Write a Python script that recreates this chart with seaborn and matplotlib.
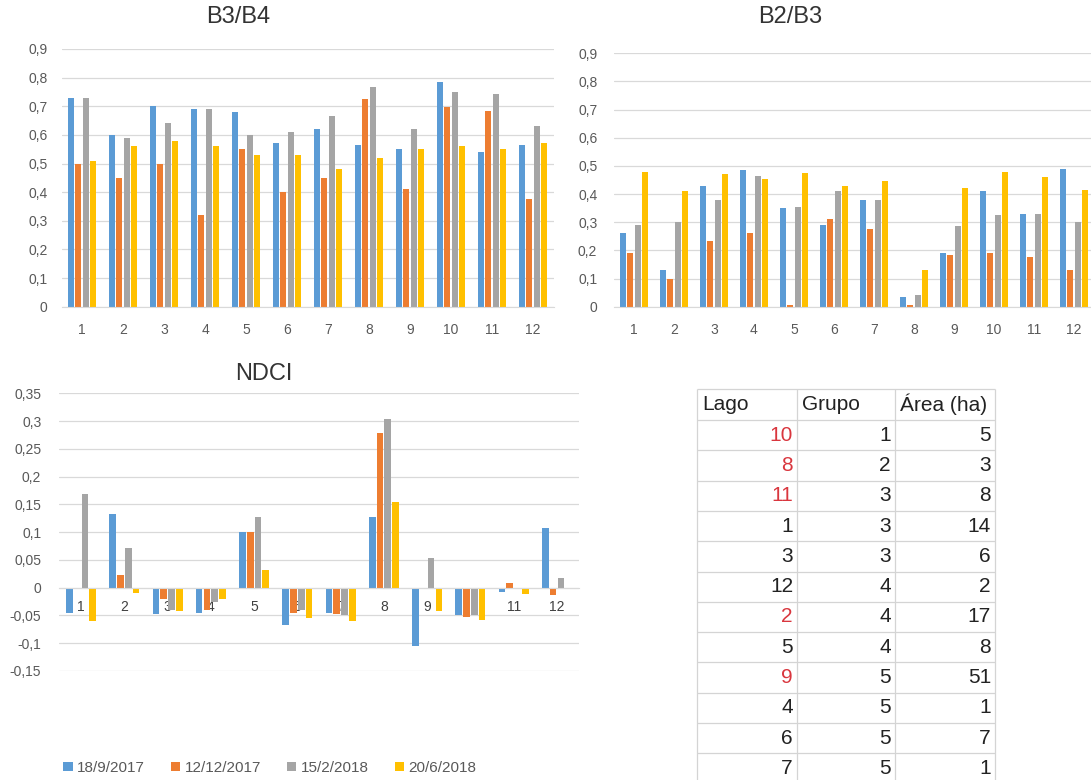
import numpy as np
import pandas as pd
import seaborn as sns
import matplotlib.pyplot as plt
from matplotlib.patches import Patch
from matplotlib.ticker import FuncFormatter, MultipleLocator

# ---- data ----
lagos = ['1', '2', '3', '4', '5', '6', '7', '8', '9', '10', '11', '12']
fechas = ['18/9/2017', '12/12/2017', '15/2/2018', '20/6/2018']
colores = ['#5B9BD5', '#ED7D31', '#A5A5A5', '#FFC000']

b34_sep17 = [0.73, 0.60, 0.70, 0.69, 0.68, 0.57, 0.62, 0.565, 0.55, 0.786, 0.54, 0.565]
b34_dic17 = [0.50, 0.45, 0.50, 0.32, 0.55, 0.40, 0.45, 0.724, 0.41, 0.696, 0.685, 0.375]
b34_feb18 = [0.73, 0.59, 0.64, 0.69, 0.60, 0.61, 0.666, 0.766, 0.62, 0.75, 0.743, 0.632]
b34_jun18 = [0.51, 0.56, 0.58, 0.56, 0.53, 0.53, 0.48, 0.52, 0.55, 0.56, 0.55, 0.57]

b23_sep17 = [0.26, 0.13, 0.43, 0.485, 0.35, 0.29, 0.38, 0.036, 0.19, 0.41, 0.33, 0.49]
b23_dic17 = [0.19, 0.10, 0.235, 0.26, 0.005, 0.31, 0.275, 0.005, 0.185, 0.19, 0.175, 0.13]
b23_feb18 = [0.29, 0.30, 0.38, 0.465, 0.355, 0.41, 0.38, 0.04, 0.285, 0.325, 0.33, 0.30]
b23_jun18 = [0.48, 0.41, 0.47, 0.455, 0.475, 0.43, 0.445, 0.13, 0.42, 0.48, 0.46, 0.415]

ndci_sep17 = [-0.045, 0.133, -0.048, -0.045, 0.10, -0.068, -0.045, 0.128, -0.105, -0.05, -0.008, 0.107]
ndci_dic17 = [0.0, 0.022, -0.02, -0.04, 0.10, -0.045, -0.048, 0.279, 0.0, -0.052, 0.008, -0.013]
ndci_feb18 = [0.168, 0.072, -0.04, -0.025, 0.127, -0.04, -0.05, 0.304, 0.053, -0.05, 0.0, 0.018]
ndci_jun18 = [-0.06, -0.01, -0.042, -0.02, 0.032, -0.055, -0.06, 0.155, -0.042, -0.058, -0.012, 0.0]

tabla_lago = [10, 8, 11, 1, 3, 12, 2, 5, 9, 4, 6, 7]
tabla_grupo = [1, 2, 3, 3, 3, 4, 4, 4, 5, 5, 5, 5]
tabla_area = [5, 3, 8, 14, 6, 2, 17, 8, 51, 1, 7, 1]
lagos_rojos = [10, 8, 11, 2, 9]

W, H = 1091, 780
GRIS_TXT = '#595959'
GRID = '#D9D9D9'


def to_long(series):
    rows = []
    for fecha, vals in zip(fechas, series):
        for lago, v in zip(lagos, vals):
            rows.append({'lago': lago, 'fecha': fecha, 'valor': v})
    return pd.DataFrame(rows)


def coma(v, pos=None):
    s = f"{v:.2f}".rstrip('0').rstrip('.')
    if s in ('-0', ''):
        s = '0'
    return s.replace('.', ',')


def px_axes(fig, left, right, top, bottom):
    return fig.add_axes([left / W, 1 - bottom / H, (right - left) / W, (bottom - top) / H])


def bar_panel(ax, series, ylim, step, ypad):
    d = to_long(series)
    sns.barplot(data=d, x='lago', y='valor', hue='fecha', hue_order=fechas,
                palette=colores, saturation=1, width=0.72, gap=0.15,
                errorbar=None, legend=False, linewidth=0, ax=ax)
    ax.set_xlim(-0.5, 11.5)
    ax.set_ylim(*ylim)
    ax.yaxis.set_major_locator(MultipleLocator(step))
    ax.yaxis.set_major_formatter(FuncFormatter(coma))
    ax.yaxis.grid(True, color=GRID, lw=0.9)
    ax.set_axisbelow(True)
    for s in ['top', 'right', 'left']:
        ax.spines[s].set_visible(False)
    ax.spines['bottom'].set_color(GRID)
    ax.set_xlabel('')
    ax.set_ylabel('')
    ax.tick_params(axis='both', length=0, labelsize=10, labelcolor=GRIS_TXT)
    ax.tick_params(axis='y', pad=ypad)
    ax.patch.set_alpha(0)


sns.set_style("white")
plt.rcParams['font.family'] = ['Liberation Sans', 'DejaVu Sans']

fig = plt.figure(figsize=(W / 100, H / 100), dpi=100)

# B3/B4
ax1 = px_axes(fig, 61.5, 553.5, 49, 306.7)
bar_panel(ax1, [b34_sep17, b34_dic17, b34_feb18, b34_jun18], (0, 0.9), 0.1, 10)
ax1.tick_params(axis='x', pad=12)

# B2/B3
ax2 = px_axes(fig, 614, 1094, 53.3, 306.7)
bar_panel(ax2, [b23_sep17, b23_dic17, b23_feb18, b23_jun18], (0, 0.9), 0.1, 12)
ax2.tick_params(axis='x', pad=12)

# NDCI
ax3 = px_axes(fig, 59.4, 578.6, 393.3, 671)
bar_panel(ax3, [ndci_sep17, ndci_dic17, ndci_feb18, ndci_jun18], (-0.15, 0.35), 0.05, 13)
ax3.spines['bottom'].set_position(('data', 0))
ax3.tick_params(axis='x', pad=9, labelcolor='#404040')

# overlay for titles and table (pixel coordinates)
ov = fig.add_axes([0, 0, 1, 1])
ov.set_xlim(0, W)
ov.set_ylim(H, 0)
ov.axis('off')
ov.patch.set_alpha(0)

ov.text(238, 17, 'B3/B4', fontsize=17, color='#333333', ha='center', va='center')
ov.text(790, 17, 'B2/B3', fontsize=17, color='#333333', ha='center', va='center')
ov.text(264, 374, 'NDCI', fontsize=17, color='#333333', ha='center', va='center')

# table
col_lines = [697, 797, 895, 995]
row_h = 30.3
first_line = 420
tab_top = 389
ov.hlines([tab_top] + [first_line + row_h * k for k in range(13)], col_lines[0], col_lines[-1],
          color='#D4D4D4', lw=0.9)
ov.vlines(col_lines, tab_top, H, color='#D4D4D4', lw=0.9)

head_y = (tab_top + first_line) / 2
for x0, txt in zip(col_lines[:3], ['Lago', 'Grupo', 'Área (ha)']):
    ov.text(x0 + 5, head_y, txt, fontsize=15, color='#222222', ha='left', va='center')

for i, (lg, gr, ar) in enumerate(zip(tabla_lago, tabla_grupo, tabla_area)):
    y = first_line + row_h * (i + 0.5)
    c_lago = '#D9363E' if lg in lagos_rojos else '#222222'
    ov.text(col_lines[1] - 4, y, str(lg), fontsize=15, color=c_lago, ha='right', va='center')
    ov.text(col_lines[2] - 4, y, str(gr), fontsize=15, color='#222222', ha='right', va='center')
    ov.text(col_lines[3] - 4, y, str(ar), fontsize=15, color='#222222', ha='right', va='center')

# legend
handles = [Patch(facecolor=c, edgecolor='none') for c in colores]
leg = fig.legend(handles, fechas, loc='center', bbox_to_anchor=(270 / W, 1 - 768 / H),
                 ncol=4, frameon=False, fontsize=11, handlelength=0.6, handleheight=0.6,
                 handletextpad=0.3, columnspacing=1.7)
for t in leg.get_texts():
    t.set_color(GRIS_TXT)

fig.savefig('out.png', dpi=100)
